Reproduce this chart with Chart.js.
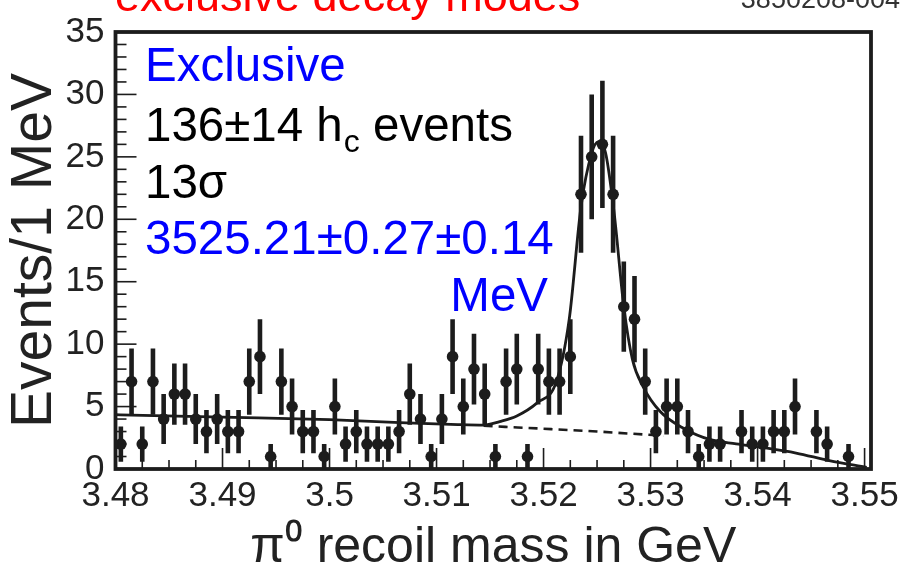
<!DOCTYPE html>
<html>
<head>
<meta charset="utf-8">
<script src="https://cdn.jsdelivr.net/npm/chart.js@4.4.1/dist/chart.umd.min.js"></script>
<style>
  html, body { margin: 0; padding: 0; background: #ffffff; }
  canvas { display: block; }
</style>
</head>
<body>
<canvas id="c" width="906" height="576"></canvas>
<script>
// pi0 recoil mass spectrum for exclusive h_c decay modes, 1 MeV bins (GeV)
const binCenters = [
  3.4805, 3.4815, 3.4825, 3.4835, 3.4845, 3.4855, 3.4865, 3.4875, 3.4885, 3.4895,
  3.4905, 3.4915, 3.4925, 3.4935, 3.4945, 3.4955, 3.4965, 3.4975, 3.4985, 3.4995,
  3.5005, 3.5015, 3.5025, 3.5035, 3.5045, 3.5055, 3.5065, 3.5075, 3.5085, 3.5095,
  3.5105, 3.5115, 3.5125, 3.5135, 3.5145, 3.5155, 3.5165, 3.5175, 3.5185, 3.5195,
  3.5205, 3.5215, 3.5225, 3.5235, 3.5245, 3.5255, 3.5265, 3.5275, 3.5285, 3.5295,
  3.5305, 3.5315, 3.5325, 3.5335, 3.5345, 3.5355, 3.5365, 3.5375, 3.5385, 3.5395,
  3.5405, 3.5415, 3.5425, 3.5435, 3.5445, 3.5455, 3.5465, 3.5475, 3.5485, 3.5495
];

// events per bin
const counts = [
  2, 7, 2, 7, 4, 6, 6, 4, 3, 4,
  3, 3, 7, 9, 1, 7, 5, 3, 3, 1,
  5, 2, 3, 2, 2, 2, 3, 6, 4, 1,
  4, 9, 5, 8, 6, 1, 7, 8, 1, 8,
  7, 7, 9, 22, 25, 26, 22, 13, 12, 7,
  3, 5, 5, 3, 1, 2, 2, 0, 3, 2,
  2, 3, 3, 5, 0, 3, 2, 0, 1, 0
];

// statistical error on each bin
const countErrors = [
  1.41, 2.65, 1.41, 2.65, 2.00, 2.45, 2.45, 2.00, 1.73, 2.00,
  1.73, 1.73, 2.65, 3.00, 1.00, 2.65, 2.24, 1.73, 1.73, 1.00,
  2.24, 1.41, 1.73, 1.41, 1.41, 1.41, 1.73, 2.45, 2.00, 1.00,
  2.00, 3.00, 2.24, 2.83, 2.45, 1.00, 2.65, 2.83, 1.00, 2.83,
  2.65, 2.65, 3.00, 4.69, 5.00, 5.10, 4.69, 3.61, 3.46, 2.65,
  1.73, 2.24, 2.24, 1.73, 1.00, 1.41, 1.41, 0.00, 1.73, 1.41,
  1.41, 1.73, 1.73, 2.24, 0.00, 1.73, 1.41, 0.00, 1.00, 0.00
];

// fitted signal + background curve
const fitMass = [
  3.4800, 3.4900, 3.5000, 3.5066, 3.5120, 3.5144, 3.5159, 3.5175, 3.5194, 3.5212,
  3.5224, 3.5235, 3.5245, 3.5251, 3.5258, 3.5266, 3.5275, 3.5283, 3.5293, 3.5309,
  3.5331, 3.5356, 3.5380, 3.5404, 3.5436, 3.5467, 3.5502
];
const fitEvents = [
  4.35, 4.15, 3.95, 3.72, 3.56, 3.52, 3.80, 4.25, 5.30, 7.00,
  12.0, 21.0, 25.3, 26.2, 25.3, 20.5, 13.0, 8.8, 6.6, 4.6,
  3.25, 2.35, 2.02, 1.73, 1.28, 0.67, 0.13
];

// background component under the peak
const bkgMass = [3.5144, 3.5194, 3.5250, 3.5302, 3.5312];
const bkgEvents = [3.46, 3.25, 3.00, 2.72, 2.67];

// axis ticks
const xTickValues = [3.48, 3.49, 3.50, 3.51, 3.52, 3.53, 3.54, 3.55];
const xTickLabels = ['3.48', '3.49', '3.5', '3.51', '3.52', '3.53', '3.54', '3.55'];
const yTickValues = [0, 5, 10, 15, 20, 25, 30, 35];
const yTickLabels = ['0', '5', '10', '15', '20', '25', '30', '35'];

const INK = '#1c1c1c';
const TICK_FONT = "'Liberation Sans', Arial, sans-serif";
const TEXT_FONT = "'Liberation Sans', Arial, sans-serif";

// error bars drawn through the chart scales
const errorBars = {
  id: 'errorBars',
  afterDatasetsDraw(chart) {
    const { ctx, chartArea: a, scales: { x, y } } = chart;
    ctx.save();
    ctx.beginPath();
    ctx.rect(a.left, a.top, a.right - a.left, a.bottom - a.top);
    ctx.clip();
    ctx.strokeStyle = INK;
    ctx.lineWidth = 4.6;
    ctx.lineCap = 'butt';
    binCenters.forEach((m, i) => {
      if (!(counts[i] > 0) || !(countErrors[i] > 0)) return;
      const px = x.getPixelForValue(m);
      ctx.beginPath();
      ctx.moveTo(px, y.getPixelForValue(counts[i] - countErrors[i]));
      ctx.lineTo(px, y.getPixelForValue(counts[i] + countErrors[i]));
      ctx.stroke();
    });
    ctx.restore();
  }
};

// heavy frame with inward ticks
const frameTicks = {
  id: 'frameTicks',
  afterDraw(chart) {
    const { ctx, chartArea: a, scales: { x, y } } = chart;
    ctx.save();
    ctx.strokeStyle = INK;
    ctx.lineWidth = 1.6;
    const seg = (x1, y1, x2, y2) => { ctx.beginPath(); ctx.moveTo(x1, y1); ctx.lineTo(x2, y2); ctx.stroke(); };
    for (let v = 1; v < 35; v++) {
      const py = y.getPixelForValue(v);
      seg(a.left, py, a.left + (v % 5 === 0 ? 21 : 11), py);
    }
    for (let k = 1; k <= 28; k++) {
      const px = x.getPixelForValue(3.48 + k * 0.0025);
      seg(px, a.bottom, px, a.bottom - (k % 4 === 0 ? 21 : 9));
    }
    ctx.lineWidth = 3.8;
    ctx.strokeRect(a.left, a.top, a.right - a.left, a.bottom - a.top);
    ctx.restore();
  }
};

// in-plot labels and header text
const labels = {
  id: 'labels',
  afterDraw(chart) {
    const { ctx } = chart;
    ctx.save();
    ctx.textBaseline = 'alphabetic';
    ctx.textAlign = 'left';
    const big = '47.5px ' + TEXT_FONT;

    ctx.font = '45px ' + TEXT_FONT;
    ctx.fillStyle = '#ff0000';
    ctx.fillText('exclusive decay modes', 115, 11);

    ctx.font = '27px ' + TICK_FONT;
    ctx.fillStyle = '#333333';
    ctx.textAlign = 'right';
    ctx.fillText('3850208-004', 900, 8);
    ctx.textAlign = 'left';

    ctx.font = big;
    ctx.fillStyle = '#0000ff';
    ctx.fillText('Exclusive', 145, 81);

    ctx.fillStyle = '#000000';
    let cx = 145;
    const part1 = '136\u00b114 h';
    ctx.fillText(part1, cx, 141);
    cx += ctx.measureText(part1).width;
    ctx.font = '32px ' + TEXT_FONT;
    ctx.fillText('c', cx + 1, 152);
    cx += ctx.measureText('c').width + 1;
    ctx.font = big;
    ctx.fillText(' events', cx, 141);

    ctx.fillText('13\u03c3', 145, 198);

    ctx.fillStyle = '#0000ff';
    ctx.fillText('3525.21\u00b10.27\u00b10.14', 145, 254);
    ctx.textAlign = 'right';
    ctx.fillText('MeV', 548, 311);
    ctx.restore();
  }
};

const points = binCenters.map((m, i) => ({ x: m, y: counts[i] }));
const fitLine = fitMass.map((m, i) => ({ x: m, y: fitEvents[i] }));
const bkgLine = bkgMass.map((m, i) => ({ x: m, y: bkgEvents[i] }));

new Chart(document.getElementById('c'), {
  type: 'scatter',
  data: {
    datasets: [
      {
        type: 'line',
        data: fitLine,
        borderColor: INK,
        borderWidth: 2.8,
        pointRadius: 0,
        cubicInterpolationMode: 'monotone',
        fill: false,
        order: 3
      },
      {
        type: 'line',
        data: bkgLine,
        borderColor: INK,
        borderWidth: 2.6,
        borderDash: [9, 6],
        pointRadius: 0,
        cubicInterpolationMode: 'monotone',
        fill: false,
        order: 2
      },
      {
        type: 'scatter',
        data: points,
        backgroundColor: INK,
        borderWidth: 0,
        pointRadius: c => (counts[c.dataIndex] > 0 ? 5.8 : 0),
        order: 1
      }
    ]
  },
  options: {
    responsive: false,
    animation: false,
    events: [],
    layout: { padding: { top: 23, right: 35, left: 0, bottom: 0 } },
    plugins: { legend: { display: false }, tooltip: { enabled: false } },
    scales: {
      x: {
        type: 'linear',
        min: 3.48,
        max: 3.5506,
        afterBuildTicks: s => { s.ticks = xTickValues.map(v => ({ value: v })); },
        afterFit: s => { s.height = 107; },
        grid: { display: false, drawTicks: false },
        border: { display: false },
        ticks: {
          autoSkip: false,
          maxRotation: 0,
          padding: 6,
          color: '#222222',
          font: { family: TICK_FONT, size: 35 },
          callback: (v, i) => xTickLabels[i]
        },
        title: {
          display: true,
          text: '\u03c0\u2070 recoil mass in GeV',
          color: '#222222',
          font: { family: TICK_FONT, size: 50, lineHeight: 1 },
          padding: { top: 0, bottom: 3 }
        }
      },
      y: {
        min: 0,
        max: 35,
        afterBuildTicks: s => { s.ticks = yTickValues.map(v => ({ value: v })); },
        afterFit: s => { s.width = 115.5; },
        grid: { display: false, drawTicks: false },
        border: { display: false },
        ticks: {
          padding: 11,
          color: '#222222',
          font: { family: TICK_FONT, size: 35 },
          callback: (v, i) => yTickLabels[i]
        },
        title: {
          display: true,
          text: 'Events/1 MeV',
          color: '#222222',
          font: { family: TICK_FONT, size: 57, lineHeight: 1.2 },
          padding: { top: 1, bottom: 0 }
        }
      }
    }
  },
  plugins: [errorBars, frameTicks, labels]
});
</script>
</body>
</html>
